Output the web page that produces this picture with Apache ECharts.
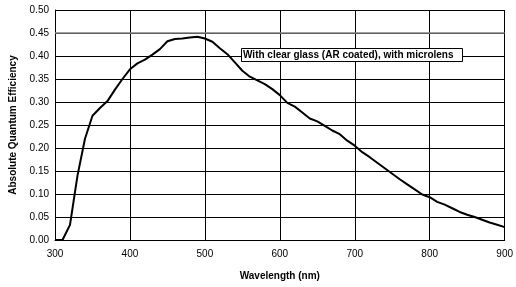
<!DOCTYPE html>
<html lang="en">
<head>
    <meta charset="UTF-8">
    <title>Absolute Quantum Efficiency</title>
    <style type="text/css">
        html, body { margin: 0; padding: 0; background: #fff; }
        #qe { width: 516px; height: 287px; }
    </style>
</head>
<body>
<div id="qe"></div>
<script src="https://cdn.jsdelivr.net/npm/echarts@6/dist/echarts.min.js"></script>
<script>
    // wavelength (nm) and QE
    var wavelength = [300, 310, 320, 330, 340, 350, 360, 370, 380, 390,
        400, 410, 420, 430, 440, 450, 460, 470, 480, 490,
        500, 510, 520, 530, 540, 550, 560, 570, 580, 590,
        600, 610, 620, 630, 640, 650, 660, 670, 680, 690,
        700, 710, 720, 730, 740, 750, 760, 770, 780, 790,
        800, 810, 820, 830, 840, 850, 860, 870, 880, 890, 900];
    var qe = [0, 0, 0.033, 0.14, 0.22, 0.27, 0.287, 0.302, 0.327, 0.35,
        0.371, 0.384, 0.392, 0.403, 0.415, 0.432, 0.437, 0.438, 0.440, 0.442,
        0.438, 0.431, 0.417, 0.404, 0.386, 0.368, 0.355, 0.347, 0.339, 0.328,
        0.315, 0.298, 0.290, 0.277, 0.264, 0.258, 0.248, 0.238, 0.230, 0.216,
        0.205, 0.191, 0.180, 0.168, 0.156, 0.144, 0.132, 0.121, 0.110, 0.099,
        0.093, 0.083, 0.077, 0.069, 0.061, 0.055, 0.050, 0.044, 0.038, 0.033, 0.028];
    var seriesName = 'With clear glass (AR coated), with microlens';

    var points = [];
    for (var i = 0; i < wavelength.length; i++) {
        points.push([wavelength[i], qe[i]]);
    }

    var myChart = echarts.init(document.getElementById('qe'));
    var option = {
        animation: false,
        textStyle: { fontFamily: 'Liberation Sans, Arial, sans-serif' },
        title: {
            text: seriesName,
            left: 241,
            top: 48,
            padding: [1, 9, 1, 2],
            borderColor: '#000',
            borderWidth: 1,
            backgroundColor: '#fff',
            textStyle: { fontSize: 10, fontWeight: 'bold', color: '#000', lineHeight: 12 }
        },
        grid: { left: 55, right: 8, top: 10, bottom: 47 },
        xAxis: {
            type: 'value',
            min: 300, max: 900, interval: 100,
            name: 'Wavelength (nm)',
            nameLocation: 'middle',
            nameGap: 31,
            nameTextStyle: { fontSize: 10, fontWeight: 'bold', color: '#000' },
            axisLine: { lineStyle: { color: '#000' } },
            axisTick: { show: false },
            axisLabel: { fontSize: 10, color: '#000', margin: 9 },
            splitLine: { show: true, lineStyle: { color: '#000', width: 1 } }
        },
        yAxis: {
            type: 'value',
            min: 0, max: 0.5, interval: 0.05,
            name: 'Absolute Quantum Efficiency',
            nameLocation: 'middle',
            nameGap: 37,
            nameTextStyle: { fontSize: 10, fontWeight: 'bold', color: '#000' },
            axisLine: { show: true, lineStyle: { color: '#000' } },
            axisTick: { show: false },
            axisLabel: {
                fontSize: 10, color: '#000', margin: 6,
                formatter: function (v) { return v.toFixed(2); }
            },
            splitLine: { show: true, lineStyle: { color: '#000', width: 1 } }
        },
        series: [{
            name: seriesName,
            type: 'line',
            data: points,
            showSymbol: false,
            smooth: false,
            lineStyle: { color: '#000', width: 2 },
            markLine: {
                silent: true,
                symbol: 'none',
                label: { show: false },
                lineStyle: { color: '#808080', type: 'solid', width: 1.5 },
                data: [{ yAxis: 0.45 }]
            }
        }]
    };
    myChart.setOption(option);
</script>
</body>
</html>
